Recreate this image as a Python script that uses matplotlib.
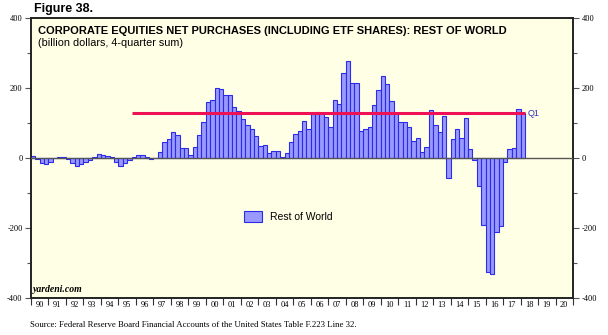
import matplotlib
matplotlib.use("Agg")
import matplotlib.pyplot as plt
import numpy as np
from matplotlib.patches import Patch
from matplotlib.ticker import MultipleLocator

# ---- data: quarterly 4-quarter sums, 1990Q1 .. 2018Q1 (billion dollars)
start_year = 1990
rest_of_world = [
    7, -3, -13, -17,      # 1990
    -12, 0, 2, 3,         # 1991
    -2, -13, -22, -17,    # 1992
    -10, -5, 3, 11,       # 1993
    8, 6, 3, -12,         # 1994
    -22, -15, -5, 4,      # 1995
    10, 10, 3, -3,        # 1996
    1, 18, 47, 54,        # 1997
    75, 66, 28, 30,       # 1998
    10, 32, 66, 104,      # 1999
    159, 165, 200, 197,   # 2000
    179, 179, 145, 134,   # 2001
    112, 94, 82, 62,      # 2002
    35, 36, 14, 19,       # 2003
    19, 2, 14, 47,        # 2004
    68, 77, 107, 83,      # 2005
    126, 131, 128, 118,   # 2006
    90, 165, 154, 244,    # 2007
    278, 214, 214, 78,    # 2008
    84, 90, 152, 194,     # 2009
    233, 211, 162, 128,   # 2010
    102, 102, 89, 49,     # 2011
    57, 17, 31, 138,      # 2012
    93, 73, 121, -56,     # 2013
    53, 83, 57, 115,      # 2014
    26, -7, -81, -191,    # 2015
    -325, -331, -210, -194,  # 2016
    -11, 27, 30, 140,     # 2017
    128,                  # 2018
]
year_labels = ["90", "91", "92", "93", "94", "95", "96", "97", "98", "99",
               "00", "01", "02", "03", "04", "05", "06", "07", "08", "09",
               "10", "11", "12", "13", "14", "15", "16", "17", "18", "19", "20"]
y_ticks = [400, 200, 0, -200, -400]
ref_line_start = 1995.8
series_name = "Rest of World"
ref_label = "Q1"

# ---- figure
fig = plt.figure(figsize=(6.08, 3.35), dpi=100)
ax = fig.add_axes([31/608, 1-298/335, 542/608, 280/335])
ax.set_facecolor("#FFFFE6")

x = start_year + 0.25*np.arange(len(rest_of_world))
ax.bar(x, rest_of_world, width=0.25, align="edge",
       facecolor="#9999FF", edgecolor="#2B2BE8", linewidth=0.8, zorder=2)

ax.axhline(0, color="#555555", linewidth=1.0, zorder=3)

last = rest_of_world[-1]
x_end = x[-1] + 0.25
ax.plot([ref_line_start, x_end], [last, last], color="#EE1155",
        linewidth=2.2, zorder=4, solid_capstyle="butt")
ax.text(x_end + 0.15, last, ref_label, color="#3333BB", fontsize=6.5,
        va="center", ha="left", family="Liberation Sans", zorder=5)

ax.set_xlim(1990, 2021)
ax.set_ylim(-400, 400)

serif = "Liberation Serif"
ax.set_yticks(y_ticks)
ax.set_yticklabels([str(v) for v in y_ticks], family=serif, fontsize=6)
ax.yaxis.set_minor_locator(MultipleLocator(100))
ax.tick_params(axis="y", which="both", direction="out", left=True, right=True,
               labelleft=True, labelright=True, length=4, width=0.8,
               color="#555555", pad=2)
ax.tick_params(axis="y", which="minor", length=3)

years = np.arange(1990, 2022)
ax.set_xticks(years)
ax.set_xticklabels([])
ax.set_xticks(years[:-1] + 0.5, minor=True)
ax.set_xticklabels(year_labels, minor=True, family=serif, fontsize=6)
ax.tick_params(axis="x", which="major", direction="out", length=5, width=0.8,
               color="#333333")
ax.tick_params(axis="x", which="minor", length=0, pad=2)

for s in ax.spines.values():
    s.set_linewidth(1.4)
    s.set_color("#222222")

# ---- texts
fig.text(34/608, 1-9/335, "Figure 38.", fontsize=9, fontweight="bold",
         family="Liberation Sans", va="center", ha="left")
ax.text(0.012, 0.955, "CORPORATE EQUITIES NET PURCHASES (INCLUDING ETF SHARES): REST OF WORLD",
        transform=ax.transAxes, fontsize=8, fontweight="bold",
        family="Liberation Sans", va="center", ha="left")
ax.text(0.012, 0.912, "(billion dollars, 4-quarter sum)",
        transform=ax.transAxes, fontsize=7.8, family="Liberation Sans",
        va="center", ha="left")
ax.text(0.004, 0.03, "yardeni.com", transform=ax.transAxes, fontsize=7,
        fontweight="bold", style="italic", family=serif, va="center", ha="left")
fig.text(30/608, 1-325/335,
         "Source: Federal Reserve Board Financial Accounts of the United States Table F.223 Line 32.",
         fontsize=6.3, family=serif, va="center", ha="left")

handle = Patch(facecolor="#9999FF", edgecolor="#2B2BE8", linewidth=0.8)
ax.legend([handle], [series_name], loc="center left",
          bbox_to_anchor=(0.375, 0.29), frameon=False,
          prop={"family": "Liberation Sans", "size": 7.5},
          handlelength=1.8, handleheight=1.2, handletextpad=0.7)

fig.savefig("out.png", dpi=100)
